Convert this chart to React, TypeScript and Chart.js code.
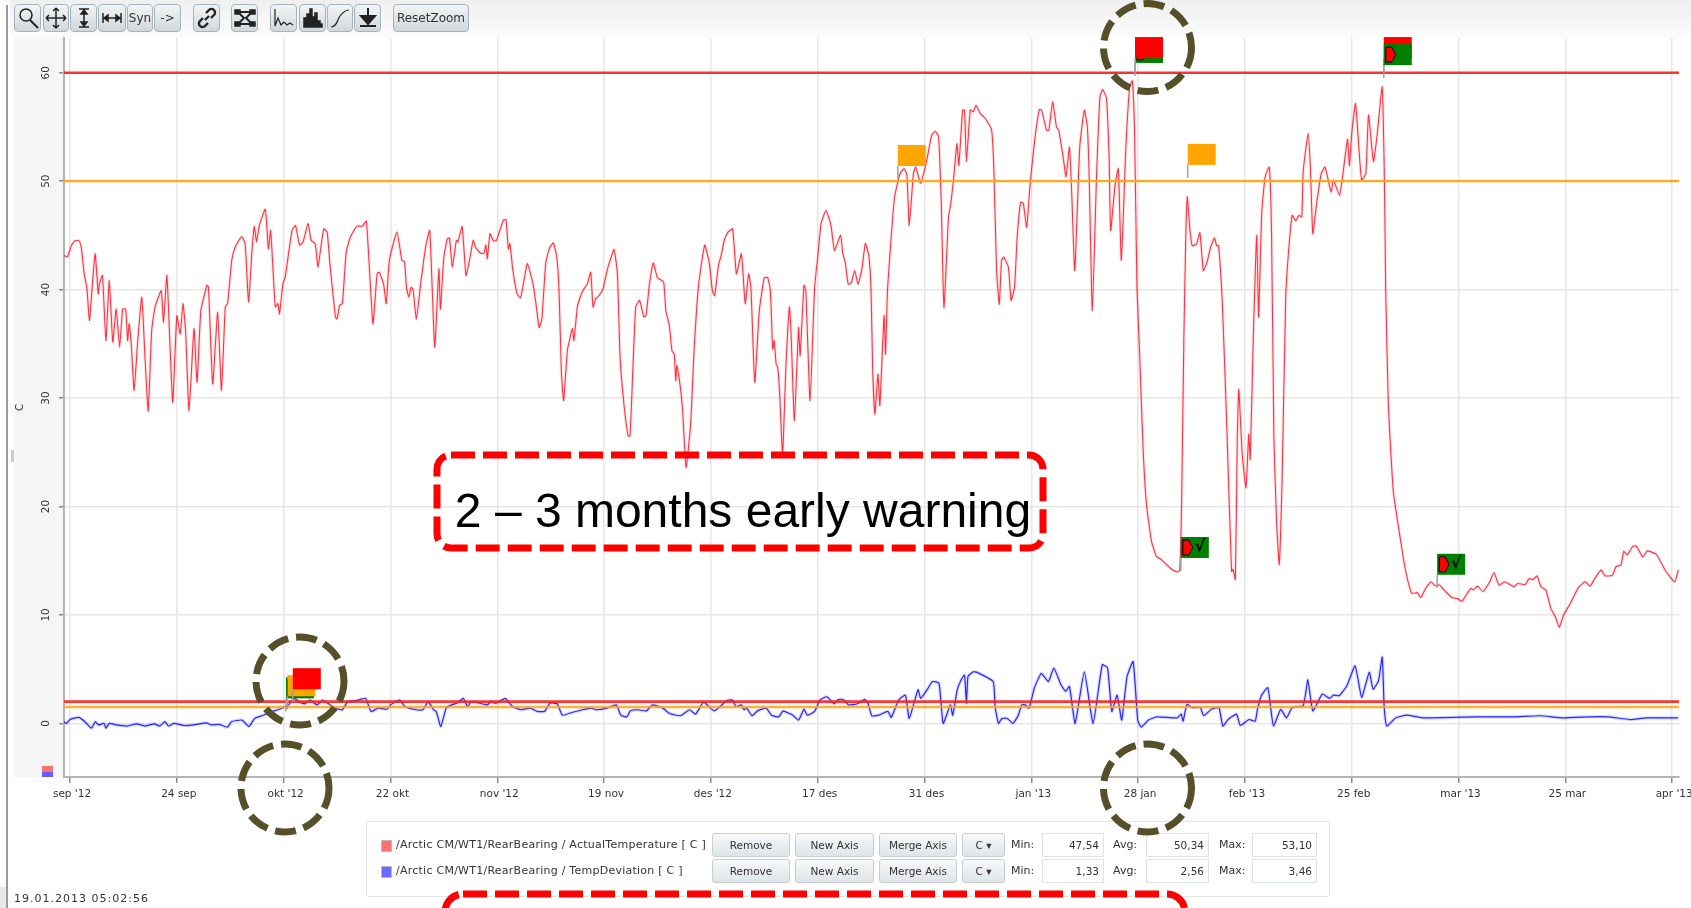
import React, { useEffect, useRef } from "react";
import { Chart, registerables } from "chart.js";

Chart.register(...registerables);

const xTickLabels = ["sep '12", "24 sep", "okt '12", "22 okt", "nov '12", "19 nov", "des '12", "17 des", "31 des", "jan '13", "28 jan", "feb '13", "25 feb", "mar '13", "25 mar", "apr '13"];

// [day since first tick, degrees C]
const actualTemperature: [number, number][] = [
  [-0.8,43.15],[-0.35,43],[0.2,44.1],[0.65,44.5],[1.2,44.5],[1.5,43.75],[1.85,41.5],[2.2,40.2],[2.55,37.15],[3,41.15],[3.3,43.3],[3.7,39.6],[3.85,40.5],[4.25,41.3],[4.7,35.3],[5.15,40.85],[5.6,35.15],[6.05,38.2],[6.5,34.7],[6.9,38.2],[7.3,38.2],[7.55,35.3],[7.75,36.85],[8.05,34.7],[8.4,30.7],[8.85,35],[9.4,39.3],[9.85,33.45],[10.25,28.8],[10.7,36.2],[11.15,38.4],[11.95,39.9],[12.25,37],[12.7,41.3],[13.45,29.6],[14,37.6],[14.45,35.9],[14.8,38.7],[15.15,36.2],[15.6,28.8],[16.25,36.4],[16.65,31.45],[17.15,38.05],[17.95,40.4],[18.15,40.2],[18.7,31.3],[19.35,37.9],[19.85,30.7],[20.35,38.4],[20.65,38.7],[21.2,42.7],[21.65,43.9],[22.5,44.9],[22.95,44.25],[23.4,38.85],[23.85,43.6],[24.15,45.8],[24.45,44.4],[24.8,45.9],[25.6,47.4],[26,43.75],[26.3,45.45],[26.9,38.4],[27.25,38.7],[27.45,37.75],[27.9,40.5],[28.2,41.15],[29.1,45.45],[29.55,45.9],[30.1,44.1],[30.55,44.4],[31.2,46.1],[31.6,44.55],[32.15,44.2],[32.5,42.1],[33.25,45.6],[33.7,45.3],[34.05,42.5],[34.8,37.45],[35,37.3],[35.35,38.55],[35.7,38.7],[36.2,43.45],[36.75,44.85],[37.6,45.85],[38.3,45.85],[38.85,46.3],[39.7,36.85],[40.25,41.45],[40.55,41.6],[41.1,40.5],[41.45,38.7],[41.85,42.7],[42.85,45.3],[43.5,42.7],[43.85,42.55],[44.1,40.2],[44.4,39.3],[44.7,40.2],[44.95,40.05],[45.4,37.3],[45.95,40.5],[46.6,43.9],[47.15,45.45],[47.8,34.7],[48.35,41.9],[48.55,38.2],[49,43],[49.45,44.7],[49.75,44.75],[50.1,42.1],[50.65,44.55],[50.85,44.4],[51.4,45.8],[51.9,41.3],[52.4,42.85],[52.85,44.55],[53.15,43.9],[53.8,43.35],[54.25,43.35],[54.5,44.1],[54.7,42.85],[55.05,45.15],[55.5,44.5],[55.9,44.55],[56.8,46.4],[57.15,46.45],[57.45,43.75],[57.65,44.25],[58.05,41.75],[58.6,39.6],[59.05,39.25],[59.5,40.85],[59.95,42.4],[60.7,40.5],[61.1,38.55],[61.5,36.5],[61.85,37.3],[62.35,42.4],[62.8,43.75],[63.35,44.3],[63.8,43],[64.1,39.9],[64.4,32.5],[64.7,29.75],[65.2,34.4],[65.85,36.4],[66.05,35.3],[66.5,38.4],[66.95,39.45],[67.35,40.05],[67.8,40.5],[68.25,41.6],[68.55,38.4],[68.9,39.15],[69.35,39.45],[69.85,40.05],[70.45,41.9],[71.3,43.7],[71.75,41.45],[72.1,33.75],[72.6,29.45],[73.15,26.5],[73.4,26.5],[73.7,31.3],[74.15,38.4],[74.65,39],[75.2,37.5],[75.5,37.6],[75.95,40.5],[76.45,42.45],[77,41.1],[77.8,40.7],[78.1,38.05],[78.55,36.7],[78.9,34.35],[79.2,34.05],[79.4,31.6],[79.55,33],[80.05,30.7],[80.3,28.8],[80.75,23.6],[81.35,27.6],[81.8,34.4],[82.4,40.5],[83.2,44.1],[83.8,42.4],[84.2,39.9],[84.5,39.45],[85,42.25],[85.4,43.3],[85.75,44.55],[86.25,45.3],[86.85,45.6],[87.35,41.45],[88,43.3],[88.5,38.7],[88.95,41.45],[89.25,40.2],[89.75,31.45],[90.35,38.05],[91,41.1],[91.45,41.1],[91.8,39.9],[92.1,34.5],[92.3,35.3],[92.55,33.15],[92.75,32.85],[93,30.7],[93.4,24.8],[93.85,33.15],[94.3,38.4],[94.5,36.2],[94.95,27.9],[95.5,36.5],[95.7,33.9],[96.2,40.4],[96.45,39.9],[97,29.75],[97.6,40.2],[98.05,43.3],[98.45,46.1],[99.1,47.3],[99.75,45.9],[100.2,43.6],[101,45],[101.3,43.3],[101.6,42.55],[102,40.5],[102.4,40.6],[102.85,41.75],[103.3,40.5],[103.8,41.9],[104.25,44.25],[104.7,43.15],[105,39.9],[105.2,32.85],[105.5,28.5],[105.9,32.2],[106.15,29.3],[106.7,37.6],[106.9,34.05],[107.15,39.9],[108.05,48.4],[108.8,50.7],[109.35,51.15],[109.7,50.55],[110,45.9],[110.55,50.7],[110.85,51.3],[111.5,49.8],[112.3,51.95],[112.95,54.25],[113.4,54.6],[113.85,54.1],[114.2,47.95],[114.55,38.35],[115.15,46.7],[115.45,47.95],[115.8,50.1],[116.25,53.45],[116.5,51.45],[117,56.55],[117.25,56.55],[117.5,51.8],[118,56.55],[118.4,56.4],[118.75,57],[119.3,56.25],[119.95,55.8],[120.8,54.7],[121.1,51],[121.45,41.75],[121.8,38.65],[122.1,42.7],[122.4,43],[123,42.05],[123.35,39],[123.8,40.2],[124.15,44.85],[124.6,48.05],[124.95,47.95],[125.4,45.75],[125.85,49.8],[126.5,54.1],[127.05,56.6],[127.35,56.55],[128,54.7],[128.3,54.7],[128.8,57.3],[129.3,55],[129.6,54.7],[130.2,52.1],[130.55,50.4],[131,53.15],[131.3,48.85],[131.7,41.75],[132.35,53.15],[132.95,56.55],[133.35,55],[133.6,50.1],[134,38.05],[134.55,50.4],[135,57.8],[135.35,58.45],[135.85,57.65],[136.2,52.25],[136.4,45.45],[136.95,49.45],[137.4,51.15],[137.8,42.7],[138.4,53.15],[138.9,58.7],[139.25,59.25],[139.55,54.1],[139.85,40.2],[140.2,34.05],[140.65,25.4],[141.1,20.2],[141.75,16.8],[142.4,15.4],[143.05,15.1],[144.15,14.35],[145.1,13.95],[145.45,14.1],[145.7,20.2],[146,35.6],[146.25,44.85],[146.45,48.55],[146.8,45.45],[147.1,44.05],[147.65,44.2],[148.1,45.25],[148.55,41.75],[149.05,42.55],[149.5,43.9],[150,44.75],[150.3,44.05],[150.55,44.05],[151.05,38.65],[151.6,27.9],[152.25,14],[152.45,14.2],[152.75,13.25],[153,26.35],[153.2,30.8],[153.65,24.8],[154.15,21.75],[154.5,26.65],[154.7,24.35],[155.1,35.6],[155.55,45],[155.8,37.45],[156.2,47],[156.65,50.4],[157.2,51.3],[157.5,44.85],[157.8,26.35],[158.15,18.65],[158.5,14.65],[158.9,23.25],[159.35,39.3],[159.8,44.2],[160.2,46.85],[160.65,46.35],[161.1,46.85],[161.45,46.7],[161.65,51],[162.3,54.4],[162.6,51],[162.9,45.15],[163.4,47.95],[164,50.7],[164.5,51.3],[165.3,49],[165.6,50.1],[166.4,48.7],[166.8,50.4],[167.45,53.85],[167.7,51.45],[168,54.4],[168.5,57.15],[168.9,53.45],[169.3,50.1],[169.85,50.7],[170.2,56.1],[170.85,51.8],[171.35,54.4],[172,58.7],[172.3,49.45],[172.45,40.2],[172.8,29.45],[173.45,21.4],[174.35,17.1],[175,14.3],[175.85,12],[176.6,12.05],[177.05,11.6],[177.7,12.45],[178.4,13.05],[178.9,12.7],[179.5,12.75],[180.3,12.15],[181.15,11.6],[181.9,11.5],[182.45,11.25],[183.6,12.45],[183.95,12.3],[184.5,12.65],[185.2,12.15],[186.1,13.05],[186.65,13.9],[187.3,12.75],[188.05,13.05],[189.25,12.6],[189.75,12.9],[190.75,12.8],[191.25,13.35],[191.75,13.25],[192.3,13.6],[192.8,12.6],[193.45,12.3],[194.1,10.6],[194.7,9.8],[195.2,8.85],[195.75,9.95],[196.65,11.05],[197.65,12.45],[198.6,13.05],[199.25,12.65],[199.85,13.35],[200.7,14.15],[201.2,13.6],[202.15,13.65],[202.65,14.45],[203.3,14.6],[203.65,15.85],[204.15,15.55],[204.8,16.3],[205.3,16.35],[206.15,15.35],[206.75,15.9],[207.9,15.6],[208.5,14.9],[209.2,14],[210.35,13.05],[210.8,14.15],
];

const tempDeviation: [number, number][] = [
  [-0.85,0.15],[-0.45,0],[0,0.35],[1.15,0.55],[1.95,0.15],[2.8,-0.45],[3.3,0.15],[3.75,-0.15],[4.45,0],[4.7,-0.45],[5.15,0],[6.1,-0.15],[7.5,-0.25],[8.7,-0.05],[9.85,-0.25],[11.05,-0.05],[11.75,-0.25],[12.45,0.15],[12.9,-0.25],[13.6,0],[15,-0.2],[16.2,-0.15],[17.85,0.05],[18.55,-0.15],[19.5,-0.1],[20.65,-0.35],[21.15,0.15],[22.55,0.3],[23.45,-0.3],[24.2,0.45],[25.35,0.75],[26.3,1.1],[26.75,1.15],[27.45,1.3],[28.65,1.7],[29.35,2.3],[30.05,2],[30.75,1.8],[31.45,2.15],[32.4,1.7],[33.1,2.15],[33.8,1.85],[34.75,1.4],[35.7,1.25],[36.4,2],[37.55,2.1],[38.75,2.3],[39.45,1.1],[40.4,1.4],[41.55,1.3],[42,1.7],[43.2,2.15],[43.9,1.55],[45.05,1.3],[46.25,1.25],[46.95,2],[47.65,1.25],[48,1.1],[48.6,-0.3],[49.3,1.4],[50,1.7],[50.7,1.85],[51.55,2.3],[52.1,1.55],[52.6,2],[53.75,1.85],[54.7,1.7],[55.15,2],[55.85,1.85],[57.05,2.3],[58,1.55],[59.15,1.25],[60.35,1.4],[61.25,1.1],[62.2,1.1],[62.9,1.85],[63.85,1.8],[64.55,0.75],[65.75,1],[67.15,1.25],[68.3,1.4],[69,1.25],[70.4,1.4],[71.6,1.7],[72.2,0.75],[73,0.6],[73.45,1.15],[74.4,1.25],[75.55,1.15],[76.35,1.7],[77.7,1.4],[78.6,0.9],[80,0.7],[81.2,1.25],[82,0.85],[83.05,1.95],[84.45,1.15],[86.1,2.1],[86.8,2.15],[87.3,1.55],[88,1.7],[88.35,1.25],[88.7,1.4],[89.4,0.7],[90.1,1.15],[91.25,1.4],[91.95,0.75],[92.9,0.6],[93.45,1.15],[94.3,0.9],[94.75,0.75],[95.5,0.3],[96.2,1.3],[96.65,0.75],[97.6,1.1],[98.3,2.15],[99.2,2.45],[100.15,1.8],[100.7,2.2],[101.35,2.2],[102.05,1.7],[103.2,1.8],[104.15,2.2],[104.6,1.85],[105.1,0.7],[106,0.75],[107.2,1.1],[107.65,0.55],[108.6,2.15],[109.5,2.6],[110,0.45],[111.15,3.1],[111.5,2.3],[112.35,3.1],[113.05,3.85],[113.9,3.7],[114.45,0],[115.4,1.7],[115.7,0.75],[116.3,3.1],[116.8,4],[117.25,4.45],[117.5,1.85],[117.7,4.3],[118.4,4.75],[118.9,4.7],[121,3.85],[121.25,1.55],[121.7,0],[122.15,0.45],[122.85,0.45],[123.6,0],[124.3,0.75],[124.75,1.7],[125.2,1.7],[125.7,1.4],[126.4,3.25],[127.3,4.6],[128.25,3.85],[128.95,5.1],[129.9,3.55],[130.5,2.95],[131,3.4],[131.75,0],[132.95,4.75],[134.1,0],[135.3,5.4],[136,5.1],[136.55,1.1],[137.25,2.6],[137.85,0.3],[138.55,4.3],[139.35,5.7],[139.95,0.3],[140.4,-0.35],[141.35,0.3],[142.45,0.6],[145.15,0.5],[145.65,0.85],[145.9,0.2],[146.4,1.75],[147.15,1.45],[148.15,1.45],[148.6,0.7],[149.6,1.3],[150.6,1.45],[151.1,-0.25],[151.8,0.35],[152.9,0.85],[153.4,-0.2],[154.55,0.35],[155.35,0.2],[155.65,1.3],[156.15,2.55],[157,3.3],[157.35,1.6],[157.75,-0.25],[158.7,1.3],[159.45,0.5],[160.2,1.45],[161.65,1.65],[162.25,4],[162.9,1.15],[164.15,2.7],[165.1,2.3],[165.6,2.6],[166.35,2.55],[167.35,3.45],[168.45,5.3],[169.3,2.4],[170.3,4.7],[170.8,3.15],[171.5,3.9],[172,6.1],[172.25,1.6],[172.6,-0.25],[173.75,0.5],[175.2,0.75],[177.45,0.5],[184.35,0.6],[189.25,0.6],[192.7,0.7],[195.65,0.5],[199.1,0.6],[201.6,0.6],[204.55,0.35],[206.5,0.5],[210.8,0.5],
];

const alarmLevels = [60, 2];
const warningLevels = [50, 1.5];

const flagDays = [108.5, 146.5, 139.6, 139.6, 172.2, 172.2, 145.6, 179.2, 28.3, 28.5, 29.2];
const flagValues = [50.2, 50.3, 59.7, 60.15, 60.15, 59.5, 14.05, 12.5, 1.1, 1.3, 1.95];
const flagKinds = ["warn", "warn", "ackArrow", "alarm", "alarm", "ackArrow", "ack", "ack", "ack", "warn", "alarm"];

const legendRows = [
  { name: "/Arctic CM/WT1/RearBearing / ActualTemperature [ C ]", color: "#ff7070", min: "47,54", avg: "50,34", max: "53,10" },
  { name: "/Arctic CM/WT1/RearBearing / TempDeviation [ C ]", color: "#6a6aff", min: "1,33", avg: "2,56", max: "3,46" },
];

const UI_FONT = '"DejaVu Sans", sans-serif';
const OLIVE = "#55502a";

const flagPlugin = {
  id: "flags",
  afterDatasetsDraw(chart: any) {
    const { ctx, scales } = chart;
    const w = 28, h = 21, pole = 13;
    flagDays.forEach((day, i) => {
      const x = scales.x.getPixelForValue(day);
      const y = scales.y.getPixelForValue(flagValues[i]);
      const kind = flagKinds[i];
      const top = y - pole - h;
      ctx.save();
      ctx.strokeStyle = "#a0a0a0";
      ctx.lineWidth = 1.5;
      ctx.beginPath();
      ctx.moveTo(x, y);
      ctx.lineTo(x, top + h);
      ctx.stroke();
      ctx.fillStyle = kind === "warn" ? "#ffa500" : kind === "alarm" ? "#ff0000" : "#008000";
      ctx.fillRect(x, top, w, h);
      if (kind === "ack" || kind === "ackArrow") {
        ctx.fillStyle = "#ff0000";
        ctx.strokeStyle = "#000";
        ctx.lineWidth = 1;
        ctx.beginPath();
        const mx = x + 2, my = top + 3;
        ctx.moveTo(mx, my);
        ctx.lineTo(mx + 6, my);
        ctx.lineTo(mx + 10, my + 7.5);
        ctx.lineTo(mx + 6, my + 15);
        ctx.lineTo(mx, my + 15);
        ctx.closePath();
        ctx.fill();
        ctx.stroke();
      }
      if (kind === "ack") {
        ctx.fillStyle = "#000";
        ctx.font = `bold 16px ${UI_FONT}`;
        ctx.textAlign = "center";
        ctx.textBaseline = "middle";
        ctx.fillText("√", x + 19, top + 10);
      }
      ctx.restore();
    });
  },
};

function ToolButton({ left, width, children }: { left: number; width: number; children: React.ReactNode }) {
  return (
    <div style={{ position: "absolute", left, top: 4, width, height: 28, boxSizing: "border-box", border: "1px solid #a5b3ba", borderRadius: 4, background: "linear-gradient(#f2f5f6,#d0d7db)", display: "flex", alignItems: "center", justifyContent: "center", font: `12px ${UI_FONT}`, color: "#333", filter: "blur(0.3px)" }}>
      {children}
    </div>
  );
}

const icon = (body: React.ReactNode) => (
  <svg width="24" height="24" viewBox="0 0 24 24" fill="none" stroke="#222" strokeWidth="1.5">{body}</svg>
);

function Toolbar() {
  return (
    <>
      <div style={{ position: "absolute", left: 10, top: 0, width: 1681, height: 38, background: "linear-gradient(#efefef,#fcfcfc)" }} />
      <ToolButton left={14} width={27}>{icon(<><circle cx="10" cy="9" r="6" /><path d="M14 14l8 8" strokeWidth="2" /></>)}</ToolButton>
      <ToolButton left={43} width={26}>{icon(<path d="M12 2v20M2 12h20M12 2l-3 3M12 2l3 3M12 22l-3-3M12 22l3-3M2 12l3-3M2 12l3 3M22 12l-3-3M22 12l-3 3" />)}</ToolButton>
      <ToolButton left={70} width={27}>{icon(<path d="M7 3h10M7 21h10M12 4v16M12 4l-3 4h6zM12 20l-3-4h6z" fill="#222" />)}</ToolButton>
      <ToolButton left={98} width={28}>{icon(<path d="M3 7v10M21 7v10M4 12h16M4 12l4-3v6zM20 12l-4-3v6z" fill="#222" />)}</ToolButton>
      <ToolButton left={127} width={26}>Syn</ToolButton>
      <ToolButton left={154} width={27}>-&gt;</ToolButton>
      <ToolButton left={193} width={27}>{icon(<path d="M10 14l4-4M8 12l-3 3a3.5 3.5 0 0 0 5 5l3-3M16 12l3-3a3.5 3.5 0 0 0-5-5l-3 3" strokeWidth="2.4" />)}</ToolButton>
      <ToolButton left={231} width={27}>{icon(<><path d="M5 6h14M5 18h14M6 7l5 5-5 5M18 7l-5 5 5 5" strokeWidth="2" /><path d="M2 4h5v4H2zM17 4h5v4h-5zM2 16h5v4H2zM17 16h5v4h-5z" fill="#222" /></>)}</ToolButton>
      <ToolButton left={270} width={27}>{icon(<path d="M3 3v17l3-8 3 7 3-3 3 3 3-2 3 2" strokeWidth="1.2" />)}</ToolButton>
      <ToolButton left={299} width={27}>{icon(<path d="M3 21v-9h3v-4h3v-5h2v8h3v-4h2v8h3v3h2v3z" fill="#222" />)}</ToolButton>
      <ToolButton left={327} width={26}>{icon(<path d="M3 21c6 0 6-7 9-11s5-6 9-6" strokeWidth="1.2" />)}</ToolButton>
      <ToolButton left={354} width={27}>{icon(<path d="M12 2v8M5 10h14l-7 8zM4 20h16" fill="#222" strokeWidth="2" />)}</ToolButton>
      <ToolButton left={393} width={76}>ResetZoom</ToolButton>
    </>
  );
}

const btn = (left: number, top: number, width: number, text: string) => (
  <div key={left + "-" + top} style={{ position: "absolute", left, top, width, height: 24, boxSizing: "border-box", border: "1px solid #c6ced2", borderRadius: 3, background: "linear-gradient(#f7f9fa,#dfe4e7)", font: `10.5px ${UI_FONT}`, color: "#333", display: "flex", alignItems: "center", justifyContent: "center", filter: "blur(0.3px)" }}>{text}</div>
);

const box = (left: number, top: number, width: number, text: string) => (
  <div key={left + "-" + top} style={{ position: "absolute", left, top, width, height: 24, boxSizing: "border-box", border: "1px solid #dfe3e5", background: "#fff", font: `10.5px ${UI_FONT}`, color: "#333", display: "flex", alignItems: "center", justifyContent: "flex-end", paddingRight: 4, filter: "blur(0.3px)" }}>{text}</div>
);

const label = (left: number, top: number, text: string, spacing = 0) => (
  <div key={left + "-" + top} style={{ position: "absolute", left, top, font: `11px ${UI_FONT}`, letterSpacing: spacing, color: "#333", whiteSpace: "nowrap", filter: "blur(0.3px)" }}>{text}</div>
);

function LegendPanel() {
  return (
    <>
      <div style={{ position: "absolute", left: 366, top: 821, width: 964, height: 76, boxSizing: "border-box", border: "1px solid #e4e6e7", borderRadius: 3, background: "#fff" }} />
      {legendRows.map((r, i) => {
        const top = 833 + i * 26;
        return (
          <React.Fragment key={r.name}>
            <div style={{ position: "absolute", left: 381, top: top + 7, width: 11, height: 12, background: r.color, border: "1px solid #bbb", boxSizing: "border-box" }} />
            {label(396, top + 5, r.name, 0.25)}
            {btn(712, top, 78, "Remove")}
            {btn(795, top, 79, "New Axis")}
            {btn(879, top, 78, "Merge Axis")}
            {btn(962, top, 43, "C  ▾")}
            {label(1011, top + 5, "Min:")}
            {box(1042, top, 62, r.min)}
            {label(1113, top + 5, "Avg:")}
            {box(1146, top, 63, r.avg)}
            {label(1219, top + 5, "Max:")}
            {box(1252, top, 65, r.max)}
          </React.Fragment>
        );
      })}
    </>
  );
}

function Overlay() {
  const circles = [[1147.5, 47.5], [300, 681], [285, 788], [1147.5, 788]];
  return (
    <svg width="1691" height="908" style={{ position: "absolute", left: 0, top: 0 }}>
      {circles.map(([cx, cy]) => (
        <circle key={cx + "-" + cy} cx={cx} cy={cy} r={44} fill="none" stroke={OLIVE} strokeWidth={7} strokeDasharray="21 8" />
      ))}
      <rect x={437} y={455} width={606} height={93} rx={14} fill="none" stroke="#ff0000" strokeWidth={7} strokeDasharray="24 8" />
      <rect x={445} y={894} width={740} height={90} rx={18} fill="none" stroke="#ff0000" strokeWidth={7} strokeDasharray="24 8" />
      <text x={743} y={527} textAnchor="middle" fontFamily='"Liberation Sans", Arial, sans-serif' fontSize={48} fill="#000">2 – 3 months early warning</text>
    </svg>
  );
}

export default function App() {
  const ref = useRef<HTMLCanvasElement>(null);
  useEffect(() => {
    if (!ref.current) return;
    const xMin = -0.79, xMax = 210.9;
    const toPts = (a: [number, number][]) => a.map(([x, y]) => ({ x, y }));
    const level = (v: number) => [{ x: xMin, y: v }, { x: xMax, y: v }];
    const line = (data: any[], color: string, w: number, order: number, tension = 0) => ({ data, borderColor: color, borderWidth: w, pointRadius: 0, tension, order, borderJoinStyle: "round" as const });
    const chart = new Chart(ref.current, {
      type: "line",
      data: {
        datasets: [
          line(level(alarmLevels[0]), "rgba(255,30,30,0.9)", 2.4, 1),
          line(level(warningLevels[0]), "rgba(255,165,20,0.95)", 2.2, 2),
          line(level(alarmLevels[1]), "rgba(255,30,30,0.9)", 2.6, 1),
          line(level(warningLevels[1]), "rgba(255,165,20,0.85)", 2.6, 2),
          line(toPts(actualTemperature), "rgba(255,20,40,0.85)", 1.1, 5, 0.15),
          line(toPts(actualTemperature), "rgba(255,60,60,0.14)", 3, 6, 0.15),
          line(toPts(tempDeviation), "rgba(20,20,255,0.9)", 1.2, 5, 0.15),
          line(toPts(tempDeviation), "rgba(90,90,255,0.22)", 3.5, 6, 0.15),
        ],
      },
      options: {
        animation: false,
        responsive: false,
        parsing: false,
        layout: { padding: { left: 14, right: 12, top: 38, bottom: 100 } },
        plugins: { legend: { display: false }, tooltip: { enabled: false } },
        scales: {
          x: {
            type: "linear",
            min: xMin,
            max: xMax,
            afterFit(s: any) { s.height = 31; s.paddingLeft = 0; s.paddingRight = 0; },
            grid: { color: "#e6e6e6", lineWidth: 1.5, tickColor: "#888", tickLength: 6 },
            border: { color: "#b4b4b4", width: 2 },
            ticks: {
              stepSize: 14,
              includeBounds: false,
              autoSkip: false,
              minRotation: 0,
              maxRotation: 0,
              padding: 5,
              labelOffset: 2,
              color: "#333",
              font: { family: UI_FONT, size: 10.5 },
              callback: (v: any) => xTickLabels[Math.round(Number(v) / 14)] ?? "",
            },
          },
          y: {
            type: "linear",
            min: -4.95,
            max: 63.2,
            afterFit(s: any) { s.width = 50; s.paddingTop = 0; s.paddingBottom = 0; },
            title: { display: true, text: "C", color: "#333", padding: 0, font: { family: UI_FONT, size: 10 } },
            grid: { color: "#e6e6e6", lineWidth: 1.5, tickColor: "#888", tickLength: 5 },
            border: { color: "#b4b4b4", width: 2 },
            ticks: {
              stepSize: 10,
              includeBounds: false,
              minRotation: 90,
              maxRotation: 90,
              crossAlign: "center",
              padding: 6,
              color: "#333",
              font: { family: UI_FONT, size: 10.5 },
            },
          },
        },
      },
      plugins: [flagPlugin],
    } as any);
    return () => chart.destroy();
  }, []);

  return (
    <div style={{ position: "absolute", left: 0, top: 0, width: 1691, height: 908, overflow: "hidden", background: "#fff" }}>
      <div style={{ position: "absolute", left: 14, top: 38, width: 50, height: 739, background: "#f5f5f5" }} />
      <div style={{ position: "absolute", left: 6, top: 5, width: 2, height: 903, background: "#9a9a9a" }} />
      <div style={{ position: "absolute", left: 11, top: 450, width: 3, height: 12, background: "#ccc" }} />
      <div style={{ position: "absolute", left: 0, top: 887, width: 6, height: 21, background: "#e8e8e8" }} />
      <Toolbar />
      <canvas ref={ref} width={1691} height={908} style={{ position: "absolute", left: 0, top: 0, width: 1691, height: 908, filter: "blur(0.45px)" }} />
      <div style={{ position: "absolute", left: 42, top: 766, width: 11, height: 6, background: "#ff7070" }} />
      <div style={{ position: "absolute", left: 42, top: 772, width: 11, height: 5, background: "#6060ff" }} />
      <LegendPanel />
      <div style={{ position: "absolute", left: 14, top: 892, font: `11px ${UI_FONT}`, letterSpacing: 1, color: "#333", whiteSpace: "nowrap", filter: "blur(0.3px)" }}>19.01.2013 05:02:56</div>
      <Overlay />
    </div>
  );
}
